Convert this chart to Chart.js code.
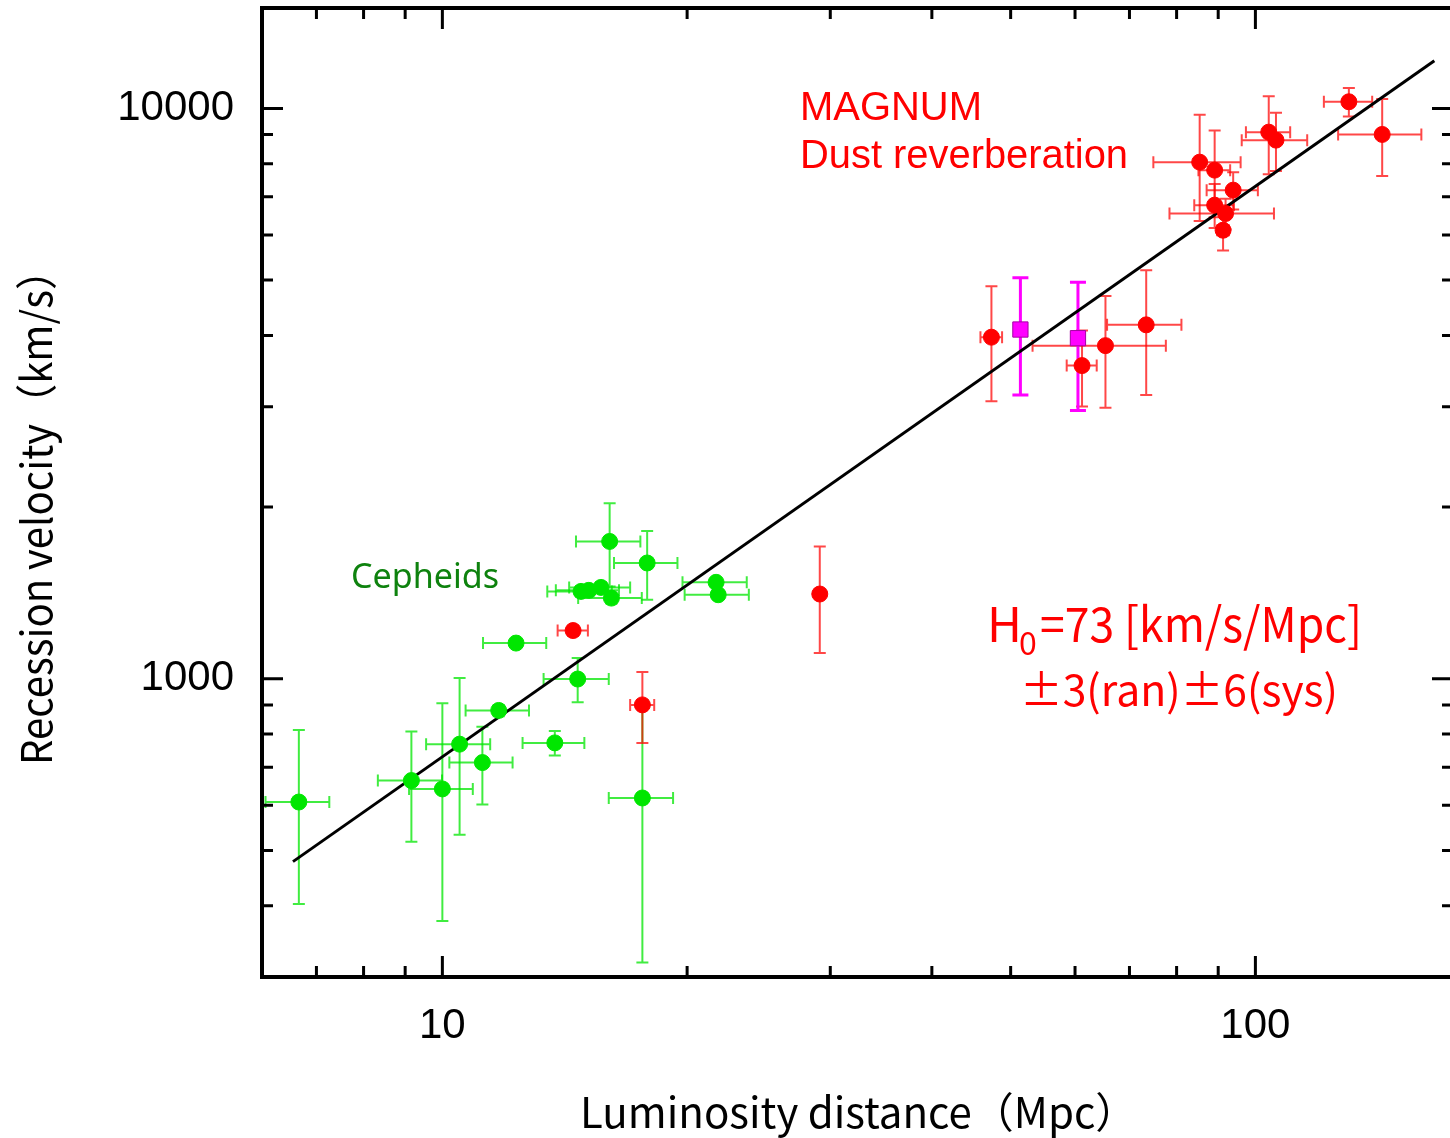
<!DOCTYPE html>
<html>
<head>
<meta charset="utf-8">
<title>Hubble diagram</title>
<script src="https://cdn.jsdelivr.net/npm/chart.js@4.4.1/dist/chart.umd.min.js"></script>
<style>
  html, body { margin: 0; padding: 0; background: #fff; overflow: hidden; }
  #wrap { position: relative; width: 1450px; height: 1138px; overflow: hidden; }
  /* the plot keeps a 12px point-overflow margin; shift it so the box sits 8px from the top */
  #hubble { position: absolute; left: 0; top: -4px; }
</style>
</head>
<body>
<div id="wrap"><canvas id="hubble" width="1465" height="1142"></canvas></div>
<script>
// Cepheid calibrated galaxies: distance (Mpc), velocity (km/s) and their errors
const cephDist    = [6.66, 9.16, 10.0, 10.5, 11.2, 11.73, 13.75, 17.62, 16.06, 17.86, 14.81, 15.14, 15.67, 16.14, 12.32, 14.67, 21.71, 21.84];
const cephVel     = [608, 663, 641, 768, 713, 880, 772, 618, 1741, 1596, 1423, 1429, 1446, 1385, 1155, 999, 1476, 1404];
const cephDistErr = [0.6, 0.83, 0.9, 0.95, 1.0, 1.05, 1.2, 1.6, 1.46, 1.6, 1.35, 1.35, 1.35, 1.45, 1.1, 1.35, 1.97, 1.98];
const cephVelErr  = [205, 145, 265, 235, 111, 20, 38, 300, 290, 220, 30, 30, 30, 30, 15, 89, 20, 20];

// MAGNUM dust reverberation AGN
const magDist    = [14.48, 17.62, 29.12, 47.35, 61.2, 65.4, 73.4, 85.4, 89.1, 93.9, 89.1, 91.9, 91.25, 103.85, 106.0, 130.3, 143.2];
const magVel     = [1215, 900, 1408, 3971, 3541, 3838, 4174, 8050, 7795, 7190, 6768, 6543, 6116, 9087, 8799, 10273, 9003];
const magDistErr = [0.62, 0.6, 0.3, 1.45, 2.6, 12.2, 7.7, 10.5, 4, 6.8, 5, 13.5, 1.5, 6.5, 9.8, 8.9, 16.8];
const magVelErr  = [25, 128, 298, 906, 540, 850, 1030, 1700, 1350, 540, 600, 400, 480, 1420, 1030, 590, 1390];

// two objects shown with square markers
const sqDist    = [51.4, 60.5];
const sqVel     = [4096, 3955];
const sqDistErr = [0, 0];
const sqVelErr  = [950, 1000];

// H0 = 73 fit line end points
const fitDist = [6.55, 166];
const fitVel  = [478, 12118];

// axis ticks
const xLabelTicks = [10, 100];
const xMinorTicks = [7, 8, 9, 20, 30, 40, 50, 60, 70, 80, 90];
const yLabelTicks = [1000, 10000];
const yMinorTicks = [400, 500, 600, 700, 800, 900, 2000, 3000, 4000, 5000, 6000, 7000, 8000, 9000];

const pts = (xs, ys) => xs.map((v, i) => ({ x: v, y: ys[i] }));

// error bars are drawn under the markers
const errorBarPlugin = {
  id: 'errorBars',
  beforeDatasetsDraw(chart) {
    const { ctx, chartArea: a, scales: { x, y } } = chart;
    ctx.save();
    ctx.beginPath();
    ctx.rect(a.left, a.top, a.right - a.left, a.bottom - a.top);
    ctx.clip();
    chart.data.datasets.forEach(ds => {
      if (!ds.errX) return;
      ctx.strokeStyle = ds.errColor;
      ctx.lineWidth = ds.errWidth;
      const c = ds.capSize;
      ds.data.forEach((p, i) => {
        const px = x.getPixelForValue(p.x), py = y.getPixelForValue(p.y);
        const dx = ds.errX[i], dy = ds.errY[i];
        ctx.beginPath();
        if (dx > 0) {
          const x0 = x.getPixelForValue(p.x - dx), x1 = x.getPixelForValue(p.x + dx);
          ctx.moveTo(x0, py); ctx.lineTo(x1, py);
          ctx.moveTo(x0, py - c); ctx.lineTo(x0, py + c);
          ctx.moveTo(x1, py - c); ctx.lineTo(x1, py + c);
        }
        if (dy > 0) {
          const y0 = y.getPixelForValue(p.y - dy), y1 = y.getPixelForValue(p.y + dy);
          ctx.moveTo(px, y0); ctx.lineTo(px, y1);
          ctx.moveTo(px - c, y0); ctx.lineTo(px + c, y0);
          ctx.moveTo(px - c, y1); ctx.lineTo(px + c, y1);
        }
        ctx.stroke();
      });
    });
    ctx.restore();
  }
};

// box around the plot with inward ticks on all four sides
const framePlugin = {
  id: 'frame',
  afterDraw(chart) {
    const { ctx, chartArea: a, scales: { x, y } } = chart;
    ctx.save();
    ctx.strokeStyle = '#000';
    ctx.lineWidth = 3;
    ctx.beginPath();
    const xt = (v, len) => {
      const p = x.getPixelForValue(v);
      ctx.moveTo(p, a.bottom); ctx.lineTo(p, a.bottom - len);
      ctx.moveTo(p, a.top); ctx.lineTo(p, a.top + len);
    };
    const yt = (v, len) => {
      const p = y.getPixelForValue(v);
      ctx.moveTo(a.left, p); ctx.lineTo(a.left + len, p);
      ctx.moveTo(a.right, p); ctx.lineTo(a.right - len, p);
    };
    xMinorTicks.forEach(v => xt(v, 11));
    xLabelTicks.forEach(v => xt(v, 21));
    yMinorTicks.forEach(v => yt(v, 11));
    yLabelTicks.forEach(v => yt(v, 21));
    ctx.stroke();
    ctx.lineWidth = 4;
    ctx.strokeRect(a.left, a.top, a.right - a.left, a.bottom - a.top);
    ctx.restore();
  }
};

// axis titles and the text labels inside the plot
const textPlugin = {
  id: 'texts',
  afterDraw(chart) {
    const ctx = chart.ctx;
    ctx.save();
    ctx.translate(0, 4); // same shift as the canvas offset
    ctx.textBaseline = 'alphabetic';
    ctx.textAlign = 'left';
    ctx.fillStyle = '#000';
    ctx.font = '42px "Noto Sans CJK JP"';
    ctx.fillText('Luminosity distance（Mpc）', 580, 1128);
    ctx.save();
    ctx.translate(52, 765);
    ctx.rotate(-Math.PI / 2);
    ctx.fillText('Recession velocity（km/s）', 0, 0, 515);
    ctx.restore();

    ctx.fillStyle = '#ff0000';
    ctx.font = '40px "Liberation Sans"';
    ctx.fillText('MAGNUM', 800, 120, 182);
    ctx.fillText('Dust reverberation', 800, 168, 328);

    ctx.fillStyle = '#0e820e';
    ctx.font = '35px "Noto Sans"';
    ctx.fillText('Cepheids', 351, 588, 148);

    ctx.fillStyle = '#ff0000';
    ctx.font = '48px "Noto Sans CJK JP"';
    ctx.fillText('H', 987, 642);
    ctx.font = '32px "Noto Sans CJK JP"';
    ctx.fillText('0', 1019, 655);
    ctx.font = '48px "Noto Sans CJK JP"';
    ctx.fillText('=73 [km/s/Mpc]', 1040, 642, 322);
    ctx.font = '43px "Noto Sans CJK JP"';
    ctx.fillText('±3(ran)±6(sys)', 1020, 706, 318);
    ctx.restore();
  }
};

const tickFont = { family: '"Liberation Sans", Arial, sans-serif', size: 42 };

// drop the label overflow padding so the plot box keeps its place
const noPad = s => { s.paddingTop = 0; s.paddingBottom = 0; s.paddingLeft = 0; s.paddingRight = 0; };

new Chart(document.getElementById('hubble'), {
  type: 'scatter',
  data: {
    datasets: [
      {
        type: 'line',
        data: pts(fitDist, fitVel),
        borderColor: '#000',
        borderWidth: 3,
        pointRadius: 0,
        fill: false,
        order: 10
      },
      {
        data: pts(cephDist, cephVel),
        errX: cephDistErr, errY: cephVelErr,
        errColor: 'rgba(0, 230, 0, 0.75)', errWidth: 2, capSize: 6,
        backgroundColor: '#00e600',
        borderColor: '#00e600',
        pointRadius: 8,
        order: 3
      },
      {
        data: pts(magDist, magVel),
        errX: magDistErr, errY: magVelErr,
        errColor: 'rgba(255, 0, 0, 0.72)', errWidth: 2, capSize: 6,
        backgroundColor: '#ff0000',
        borderColor: '#ff0000',
        pointRadius: 8,
        order: 2
      },
      {
        data: pts(sqDist, sqVel),
        errX: sqDistErr, errY: sqVelErr,
        errColor: '#ff00ff', errWidth: 3, capSize: 8,
        backgroundColor: '#ff00ff',
        borderColor: '#a400a4',
        borderWidth: 1,
        pointStyle: 'rect',
        pointRadius: 10.8,
        order: 1
      }
    ]
  },
  options: {
    responsive: false,
    animation: false,
    layout: { padding: { top: 12, right: 12, left: 0, bottom: 0 } },
    plugins: { legend: { display: false }, tooltip: { enabled: false } },
    scales: {
      x: {
        type: 'logarithmic',
        min: 6,
        max: 175,
        afterBuildTicks: s => { s.ticks = xLabelTicks.map(v => ({ value: v })); },
        afterFit: s => { s.height = 161; noPad(s); },
        grid: { display: false, drawTicks: false },
        border: { display: false },
        ticks: { font: tickFont, color: '#000', padding: 24, maxRotation: 0, autoSkip: false, callback: v => String(v) }
      },
      y: {
        type: 'logarithmic',
        min: 300,
        max: 15000,
        afterBuildTicks: s => { s.ticks = yLabelTicks.map(v => ({ value: v })); },
        afterFit: s => { s.width = 262; noPad(s); },
        grid: { display: false, drawTicks: false },
        border: { display: false },
        ticks: { font: tickFont, color: '#000', padding: 28, autoSkip: false, callback: v => String(v) }
      }
    }
  },
  plugins: [errorBarPlugin, framePlugin, textPlugin]
});
</script>
</body>
</html>
